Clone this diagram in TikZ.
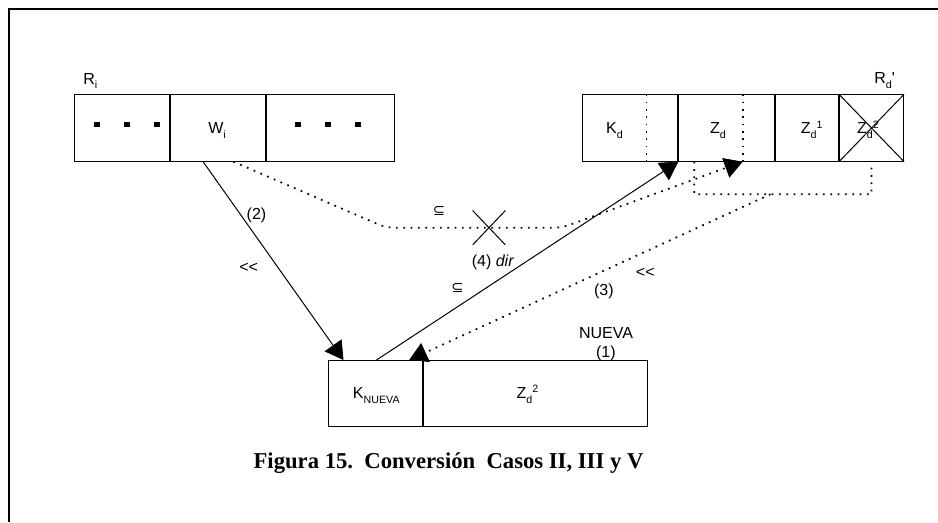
\documentclass[tikz,border=0pt]{standalone}
\usepackage{fontspec}
\setmainfont{Liberation Sans}[Ligatures=TeXOff]
\newfontfamily\capfont{Liberation Serif}
\newfontfamily\symfont{DejaVu Sans}
\usetikzlibrary{arrows.meta,calc,shapes.misc}
\newcommand\sbs[1]{\raisebox{-3.5pt}{\fontsize{8}{9}\selectfont #1}}
\newcommand\sps[1]{\raisebox{4.2pt}{\fontsize{8}{9}\selectfont #1}}
\begin{document}
\begin{tikzpicture}[x=0.75pt,y=-0.75pt,
  cell/.style={draw, line width=0.75pt, minimum height=49.8pt, inner sep=0pt, anchor=north west},
  lbl/.style={font=\fontsize{12}{14}\selectfont, inner sep=0pt},
  dotline/.style={line width=1.3pt, dash pattern=on 1.3pt off 4.2pt},
  ln/.style={line width=0.75pt},
  arr/.style={-{Triangle[length=13.5pt,width=15.5pt,line width=0.5pt]}},
  sq/.style={fill, minimum size=4pt, inner sep=0pt},
]
\useasboundingbox (0,0) rectangle (938,522);
% frame
\draw[line width=1.5pt] (8.5,522) -- (8.5,9) -- (938,9);

% R_i record
\node[cell, minimum width=71.5pt] (a1) at (74,94.3) {};
\node[cell, minimum width=71.25pt] (a2) at (a1.north east) {};
\node[cell, minimum width=95.8pt] (a3) at (a2.north east) {};
\node[lbl, anchor=base west] (Ri) at (83,84) {R\sbs{i}};
\node[lbl, anchor=base] (Wi) at (217,133.7) {W\sbs{i}};
\node[sq] (d1) at (97,124.5) {};
\node[sq] (d2) at (127,124.5) {};
\node[sq] (d3) at (157,124.5) {};
\node[sq] (d4) at (298,124.5) {};
\node[sq] (d5) at (328,124.5) {};
\node[sq] (d6) at (358,124.5) {};

% R_d' record
\node[cell, minimum width=71.25pt] (b1) at (582.3,94.3) {};
\node[cell, minimum width=71.55pt] (b2) at (b1.north east) {};
\node[cell, minimum width=47.5pt] (b3) at (b2.north east) {};
\node[cell, minimum width=48pt] (b4) at (b3.north east) {};
\node[lbl, anchor=base west] (Rd) at (874,83.5) {R\sbs{d}'};
\node[lbl, anchor=base] (Kd) at (614.5,133.7) {K\sbs{d}};
\node[lbl, anchor=base] (Zd) at (718,133.7) {Z\sbs{d}};
\node[lbl, anchor=base] (Zd1) at (811.7,133.7) {Z\sbs{d}\sps{1}};
\node[lbl, anchor=base] (Zd2) at (868,133.7) {Z\sbs{d}\sps{2}};
\draw[dotline] ($(b1.north west)!0.67!(b1.north east)$) -- ($(b1.south west)!0.67!(b1.south east)$);
\draw[dotline] ($(b2.north west)!0.668!(b2.north east)$) -- ($(b2.south west)!0.668!(b2.south east)$);
\draw[ln] (b4.north west) -- (b4.south east) (b4.north east) -- (b4.south west);

% NUEVA record
\node[cell, minimum width=70pt, minimum height=49.5pt] (c1) at (328.3,360) {};
\node[cell, minimum width=168pt, minimum height=49.5pt] (c2) at (c1.north east) {};
\node[lbl, anchor=base] (Kn) at (376.3,398.5) {K\sbs{NUEVA}};
\node[lbl, anchor=base] (Zn) at (527.5,398.5) {Z\sbs{d}\sps{2}};
\node[lbl] (nv) at (606,333.5) {NUEVA};
\node[lbl] (l1) at (605.8,353.3) {(1)};

% arrow (2)
\draw[ln, arr] ($(a2.south west)!0.341!(a2.south east)$) -- ($(c1.north west)!0.161!(c1.north east)$);
\node[lbl] (l2) at (256.5,215) {(2)};
\node[lbl] (ll1) at (248.7,268.3) {<\kern0pt<};

% arrow (4)
\draw[ln, arr] ($(c1.north west)!0.511!(c1.north east)$) -- (b1.south east);
\node[lbl] (l4) at (493,262) {(4) \textit{dir}};
\node[lbl, font=\symfont\fontsize{11}{13}\selectfont] (sub2) at (457.5,288.3) {⊆};

% crossed dotted link
\node[draw, cross out, ln, minimum width=23.8pt, minimum height=25pt, inner sep=0pt] (cross) at (489,227.7) {};
\coordinate (bl) at (386,227.7);
\coordinate (br) at (562,227.7);
\draw[dotline, arr, rounded corners=6pt] ($(a2.south west)!0.657!(a2.south east)$) -- (bl) -- (br) -- ($(b2.south west)!0.668!(b2.south east)$);
\node[lbl, font=\symfont\fontsize{11}{13}\selectfont] (sub1) at (439,211) {⊆};

% bracket and arrow (3)
\coordinate (brL) at ($(b2.south west)!0.165!(b2.south east)$);
\coordinate (brR) at (b4.south);
\draw[dotline] ([yshift=-4.5pt]brR) -- ([yshift=-24.4pt]brR) -- ([yshift=-24.4pt]brL) -- (brL);
\coordinate (brM) at ($([yshift=-24.4pt]brL)!0.43!([yshift=-24.4pt]brR)$);
\draw[dotline, arr] (brM) -- ($(c1.north west)!0.857!(c1.north east)$);
\node[lbl] (ll2) at (645.3,273.3) {<\kern0pt<};
\node[lbl] (l3) at (603.8,291.7) {(3)};

% caption
\node[anchor=base, inner sep=0pt, font=\capfont\bfseries\fontsize{17}{20}\selectfont] (cap) at (448.5,468.3) {Figura 15.\ \ Conversión\ \ Casos II, III y V};
\end{tikzpicture}
\end{document}
